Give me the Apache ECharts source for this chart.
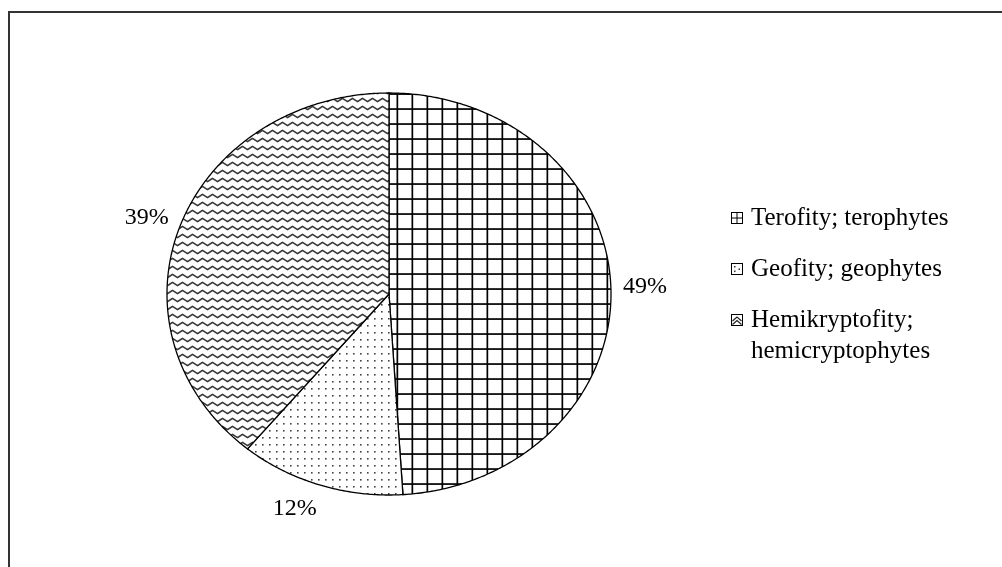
<!DOCTYPE html>
<html>
<head>
<meta charset="utf-8">
<script src="https://cdn.jsdelivr.net/npm/echarts@6/dist/echarts.min.js"></script>
<style>
  html, body { margin: 0; padding: 0; background: #fff; }
  #chart { width: 1002px; height: 567px; }
</style>
</head>
<body>
<div id="chart"></div>
<script>
// Life-form spectrum of the flora: share of species per life form (%)
const categories = ['Terofity; terophytes', 'Geofity; geophytes', 'Hemikryptofity;\nhemicryptophytes'];
const shares = [49, 12, 39];

// Elliptical pie layout (pixels)
const PIE = { cx: 389, cy: 294, rx: 222, ry: 201 };
const FONT = '"Liberation Serif", "Times New Roman", serif';
const LINE_H = 31;

function makeCanvas(w, h, draw) {
  const c = document.createElement('canvas');
  c.width = w; c.height = h;
  const ctx = c.getContext('2d');
  ctx.fillStyle = '#fff';
  ctx.fillRect(0, 0, w, h);
  draw(ctx);
  return c;
}

// Fill tiles: square grid, dots, waves
const gridTile = makeCanvas(15, 15, ctx => {
  ctx.fillStyle = '#000';
  ctx.fillRect(6.5, 0, 1.7, 15);
  ctx.fillRect(0, 3.2, 15, 1.7);
});
const dotTile = makeCanvas(7, 7, ctx => {
  ctx.fillStyle = '#444';
  ctx.fillRect(3, 3, 1.6, 1.6);
});
const waveTile = makeCanvas(10, 8, ctx => {
  ctx.strokeStyle = '#3a3a3a';
  ctx.lineWidth = 1.6;
  ctx.lineJoin = 'round';
  for (const dy of [-8, 0, 8]) {
    ctx.beginPath();
    ctx.moveTo(-2.5, 5.7 + dy);
    ctx.lineTo(2.5, 2.3 + dy);
    ctx.lineTo(7.5, 5.7 + dy);
    ctx.lineTo(12.5, 2.3 + dy);
    ctx.stroke();
  }
});
const fills = [gridTile, dotTile, waveTile].map(img => ({ image: img, repeat: 'repeat' }));

// Small legend keys
function keyIcon(draw) {
  const c = makeCanvas(12, 12, ctx => {
    draw(ctx);
    ctx.strokeStyle = '#000';
    ctx.lineWidth = 1;
    ctx.strokeRect(0.5, 0.5, 11, 11);
  });
  return 'image://' + c.toDataURL();
}
const icons = [
  keyIcon(ctx => { ctx.fillStyle = '#000'; ctx.fillRect(5.5, 0, 1, 12); ctx.fillRect(0, 5.5, 12, 1); }),
  keyIcon(ctx => { ctx.fillStyle = '#333'; ctx.fillRect(3, 3, 1.5, 1.5); ctx.fillRect(3, 7.5, 1.5, 1.5); ctx.fillRect(7.5, 5.5, 1.5, 1.5); }),
  keyIcon(ctx => {
    ctx.strokeStyle = '#222'; ctx.lineWidth = 1.2;
    ctx.beginPath(); ctx.moveTo(1.5, 7); ctx.lineTo(6, 3); ctx.lineTo(10.5, 7); ctx.stroke();
    ctx.beginPath(); ctx.moveTo(1.5, 10.5); ctx.lineTo(6, 6.5); ctx.lineTo(10.5, 10.5); ctx.stroke();
  })
];

const total = shares.reduce((a, b) => a + b, 0);

function sectorRenderer(i) {
  return function (params, api) {
    const before = shares.slice(0, i).reduce((a, b) => a + b, 0);
    const v = api.value(0);
    const a0 = -Math.PI / 2 + 2 * Math.PI * before / total;
    const a1 = a0 + 2 * Math.PI * v / total;
    const n = Math.max(2, Math.ceil((a1 - a0) / (Math.PI / 360)));
    const pts = [[PIE.cx, PIE.cy]];
    for (let k = 0; k <= n; k++) {
      const a = a0 + (a1 - a0) * k / n;
      pts.push([PIE.cx + PIE.rx * Math.cos(a), PIE.cy + PIE.ry * Math.sin(a)]);
    }
    // label just outside the rim at the mid-angle, aligned away from the pie
    const am = (a0 + a1) / 2;
    const c = Math.cos(am), s = Math.sin(am);
    const gap = 12, hh = 13;
    const lx = PIE.cx + PIE.rx * c + gap * c;
    const ly = PIE.cy + PIE.ry * s + gap * s + hh * s;
    return {
      type: 'group',
      children: [
        {
          type: 'polygon',
          shape: { points: pts },
          style: { fill: fills[i], stroke: '#000', lineWidth: 1.3 }
        },
        {
          type: 'text',
          x: lx, y: ly,
          style: {
            text: v + '%',
            font: '24px ' + FONT,
            fill: '#000',
            align: c < 0 ? 'right' : 'left',
            verticalAlign: 'middle'
          }
        }
      ]
    };
  };
}

// icon centre rows of the three legend entries
const legendTops = [218 - LINE_H / 2, 269 - LINE_H / 2, 320 - LINE_H * 1.5];

const chart = echarts.init(document.getElementById('chart'), null, { renderer: 'canvas' });
chart.setOption({
  animation: false,
  backgroundColor: '#fff',
  graphic: [{
    type: 'rect',
    silent: true,
    z: -10,
    shape: { x: 9, y: 12, width: 1200, height: 800 },
    style: { fill: 'none', stroke: '#333', lineWidth: 2 }
  }],
  legend: categories.map((name, i) => ({
    data: [{ name, icon: icons[i] }],
    orient: 'vertical',
    left: 731,
    top: legendTops[i],
    padding: 0,
    itemWidth: 12,
    itemHeight: 12,
    selectedMode: false,
    // the two-line entry gets an empty first line so its key sits beside the first line
    formatter: n => (n.indexOf('\n') >= 0 ? ' \n' + n : n),
    textStyle: {
      fontFamily: FONT,
      fontSize: 25,
      color: '#000',
      lineHeight: LINE_H,
      padding: [0, 0, 0, 3]
    }
  })),
  series: categories.map((name, i) => ({
    type: 'custom',
    name,
    coordinateSystem: 'none',
    silent: true,
    data: [[shares[i]]],
    renderItem: sectorRenderer(i)
  }))
});
</script>
</body>
</html>
